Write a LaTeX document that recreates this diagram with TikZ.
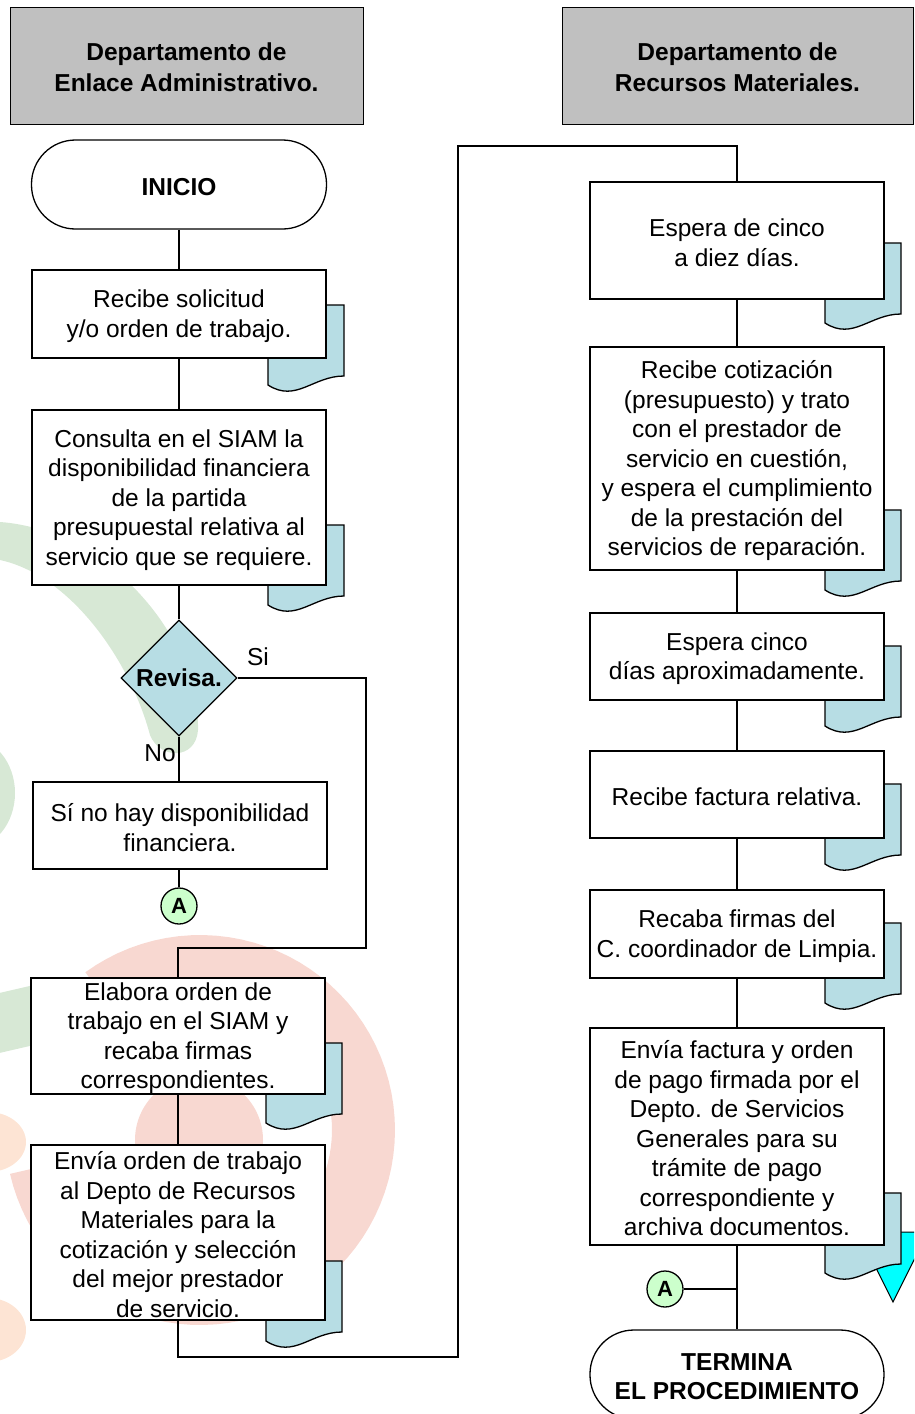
\documentclass[tikz,border=0pt]{standalone}
\usepackage{fontspec}
\setmainfont{Liberation Sans}
\usetikzlibrary{shapes.geometric,calc}
\definecolor{docblue}{RGB}{183,221,228}
\definecolor{hdrgray}{RGB}{192,192,192}
\definecolor{conngreen}{RGB}{204,255,204}
\definecolor{wmgreen}{RGB}{215,232,213}
\definecolor{wmpink}{RGB}{248,216,209}
\definecolor{wmorange}{RGB}{253,228,212}
\definecolor{offcyan}{RGB}{0,255,255}
\newcommand{\fl}{\rule{0pt}{0.905em}}
\newcommand{\docshape}[2]{%
  \filldraw[docshp] (#1,#2) -- ({#1+76},#2) -- ({#1+76},{#2+71})
    .. controls ({#1+45},{#2+71}) and ({#1+28},{#2+98}) .. (#1,{#2+80}) -- cycle;}
\tikzset{
  base/.style={font=\fontsize{24.5}{29.5}\selectfont, align=center, inner sep=0pt, line width=1.3pt},
  proc/.style={base, draw, fill=white, rectangle, minimum width=294pt},
  hdr/.style={base, draw, fill=hdrgray, line width=0.8pt, font=\bfseries\fontsize{24.5}{31}\selectfont},
  term/.style={base, draw, fill=white, rounded corners=44pt, minimum width=295pt, minimum height=89pt, font=\bfseries\fontsize{24.5}{29}\selectfont},
  decis/.style={base, draw, diamond, fill=docblue, minimum width=116pt, minimum height=116pt, font=\bfseries\fontsize{24.5}{29.5}\selectfont},
  conn/.style={base, draw, circle, fill=conngreen, minimum size=36pt, font=\bfseries\fontsize{22}{24}\selectfont},
  lbl/.style={font=\fontsize{24.5}{29.5}\selectfont, inner sep=0pt},
  link/.style={line width=1.3pt},
  docshp/.style={fill=docblue, draw=black, line width=1.3pt},
}
\begin{document}
\begin{tikzpicture}[x=1pt,y=-1pt]
\useasboundingbox (0,0) rectangle (914,1414);
\clip (0,0) rectangle (914,1414);
% watermark
\fill[wmgreen] (0,522) .. controls (110,530) and (200,640) .. (198,730)
  .. controls (196,760) and (160,760) .. (150,735)
  .. controls (130,660) and (70,575) .. (0,560) -- cycle;
\fill[wmgreen] (-30,793) ellipse[x radius=45pt, y radius=55pt];
\fill[wmgreen] (-5,994) -- (60,979) -- (60,1039) -- (-5,1054) -- cycle;
\fill[wmpink] plot[domain=-126:167, samples=80] ({200+195*cos(\x)},{1130+195*sin(\x)})
  -- plot[domain=167:-126, samples=80] ({200+132*cos(\x)},{1130+132*sin(\x)}) -- cycle;
\fill[wmpink] (199,1140) circle[radius=64pt];
\fill[wmorange] (-12,1142) ellipse[x radius=38pt, y radius=30pt];
\fill[wmorange] (-12,1330) ellipse[x radius=38pt, y radius=32pt];
% off-page marker
\filldraw[fill=offcyan, draw=black, line width=1pt] (858,1232) -- (928,1232) -- (893,1302) -- cycle;
% document shapes
\docshape{268}{305}
\docshape{268}{525}
\docshape{266}{1043}
\docshape{266}{1261}
\docshape{825}{243}
\docshape{825}{510}
\docshape{825}{646}
\docshape{825}{784}
\docshape{825}{923}
\docshape{825}{1193}
% headers
\node[hdr, minimum width=353pt, minimum height=117pt] (h1) at (186.5,65.5) {\fl Departamento de\\Enlace Administrativo.};
\node[hdr, minimum width=351pt, minimum height=117pt] (h2) at (737.5,65.5) {\fl Departamento de\\Recursos Materiales.};
% left column
\node[term] (ini) at (179,184.5) {\fl INICIO};
\node[proc, minimum height=88pt] (b1) at (179,314) {\fl Recibe solicitud\\y/o orden de trabajo.};
\node[proc, minimum height=175pt] (b2) at (179,497.5) {\fl Consulta en el SIAM la\\disponibilidad financiera\\de la partida\\presupuestal relativa al\\servicio que se requiere.};
\node[decis] (rev) at (179,678) {Revisa.};
\node[lbl] (si) at (258,657) {Si};
\node[lbl] (no) at (160,753) {No};
\node[proc, minimum height=87pt] (nod) at (180,825.5) {\fl Sí no hay disponibilidad\\financiera.};
\node[conn] (a1) at (179,906) {A};
\node[proc, minimum height=116pt] (b3) at (178,1036) {\fl Elabora orden de\\trabajo en el SIAM y\\recaba firmas\\correspondientes.};
\node[proc, minimum height=175pt] (b4) at (178,1232.5) {\fl Envía orden de trabajo\\al Depto de Recursos\\Materiales para la\\cotización y selección\\del mejor prestador\\de servicio.};
% right column
\node[proc, minimum height=117pt] (r1) at (737,240.5) {\fl Espera de cinco\\a diez días.};
\node[proc, minimum height=223pt] (r2) at (737,458.5) {\fl Recibe cotización\\(presupuesto) y trato\\con el prestador de\\servicio en cuestión,\\y espera el cumplimiento\\de la prestación del\\servicios de reparación.};
\node[proc, minimum height=87pt] (r3) at (737,656.5) {\fl Espera cinco\\días aproximadamente.};
\node[proc, minimum height=87pt] (r4) at (737,794.5) {\fl Recibe factura relativa.};
\node[proc, minimum height=88pt] (r5) at (737,934) {\fl Recaba firmas del\\C. coordinador de Limpia.};
\node[proc, minimum height=217pt] (r6) at (737,1136.5) {\fl Envía factura y orden\\de pago firmada por el\\Depto. de Servicios\\Generales para su\\trámite de pago\\correspondiente y\\archiva documentos.};
\node[conn] (a2) at (665,1289) {A};
\node[term, minimum width=294pt] (fin) at (737,1374.5) {\fl TERMINA\\EL PROCEDIMIENTO};
% routing coordinates
\coordinate (siR) at (366,948);
\coordinate (lp1) at (458,1357);
\coordinate (lp2) at (458,146);
% connectors
\draw[link] (ini) -- (b1);
\draw[link] (b1) -- (b2);
\draw[link] (b2) -- (rev);
\draw[link] (rev.south) -- (rev.south |- nod.north);
\draw[link] (nod.south -| a1) -- (a1);
\draw[link] (rev.east) -| (siR) -| (b3.north);
\draw[link] (b3) -- (b4);
\draw[link] (b4.south) |- (lp1) -- (lp2) -| (r1.north);
\draw[link] (r1) -- (r2);
\draw[link] (r2) -- (r3);
\draw[link] (r3) -- (r4);
\draw[link] (r4) -- (r5);
\draw[link] (r5) -- (r6);
\draw[link] (r6) -- (fin);
\draw[link] (a2.east) -- (a2.east -| r6.south);
\end{tikzpicture}
\end{document}
